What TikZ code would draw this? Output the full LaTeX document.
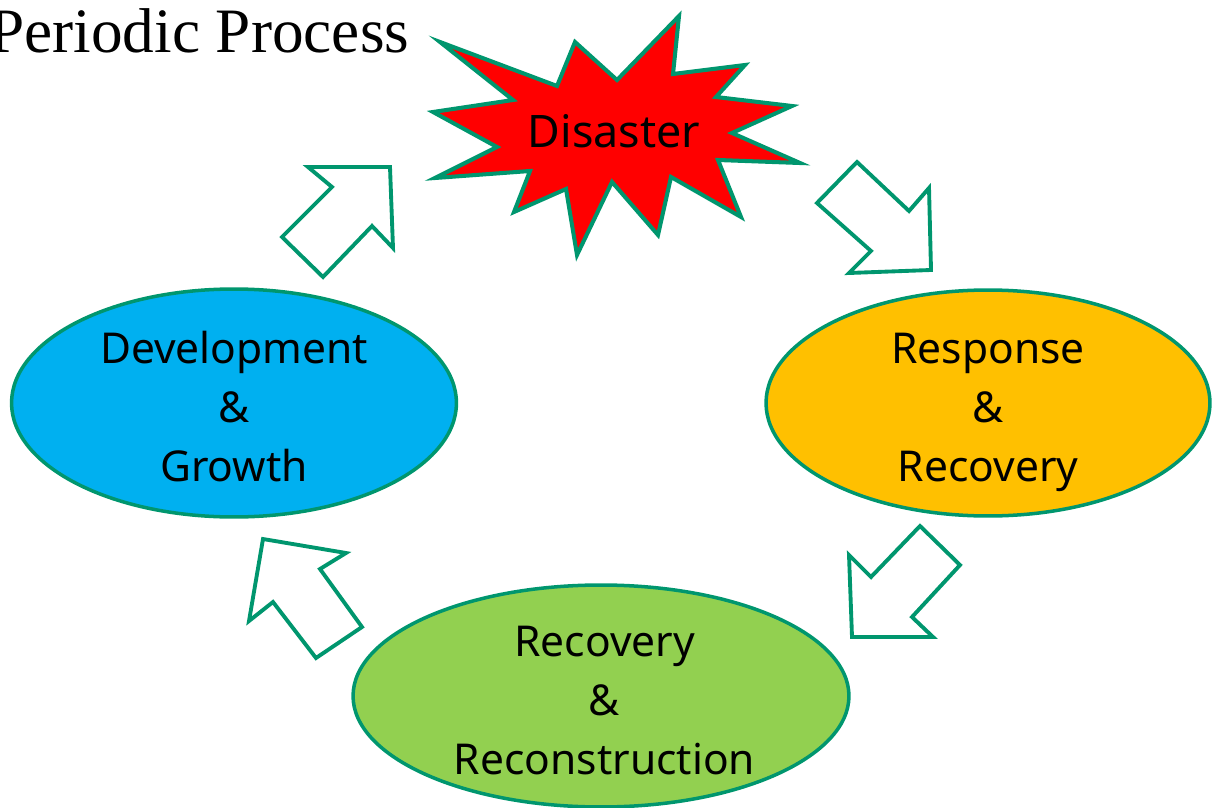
\documentclass[tikz,border=0pt]{standalone}
\usepackage{fontspec}
\setmainfont{Liberation Serif}
\newfontfamily\phasefont{Noto Sans}
\usetikzlibrary{shapes.geometric}

\definecolor{rimgreen}{RGB}{0,150,110}
\definecolor{quakered}{RGB}{255,0,0}
\definecolor{growblue}{RGB}{0,176,240}
\definecolor{respgold}{RGB}{255,192,0}
\definecolor{rebuildgreen}{RGB}{146,208,80}

\tikzset{
    phase/.style={ellipse,draw=rimgreen,line width=2pt,inner sep=0pt},
    phasetext/.style={align=center,inner sep=0pt,yshift=-4.5pt,
        font=\phasefont\fontsize{24.2}{33.6}\selectfont},
    hollow/.style={draw=rimgreen,line width=2.2pt,fill=white,line join=miter},
}

\begin{document}
\begin{tikzpicture}[x=0.02cm,y=-0.02cm]
    \useasboundingbox (0,0) rectangle (1212,807);

    \node[anchor=base west,inner sep=0pt,font=\fontsize{36}{40}\selectfont] (title) at (-11,53) {Periodic Process};

    \draw[draw=rimgreen,line width=2.3pt,fill=quakered,line join=miter]
        (440,42) -- (557,86) -- (575,42) -- (617,80) -- (679,16) -- (673,74)
        -- (745,65) -- (716,97) -- (792,106) -- (732,133) -- (800,163) -- (718,160)
        -- (741,217) -- (671,177) -- (658,235) -- (612,182) -- (577,255) -- (566,189)
        -- (514,212) -- (530,171) -- (435,178) -- (497,147) -- (433,112) -- (513,100) -- cycle;
    \node[inner sep=0pt,font=\phasefont\fontsize{25.5}{30}\selectfont] (disaster) at (614,131) {Disaster};

    \node[phase,fill=growblue,minimum width=8.9cm,minimum height=4.56cm] (develop) at (234,403) {};
    \node[phasetext] (developtext) at (develop.center) {\strut Development\\\&\\Growth\strut};

    \node[phase,fill=respgold,minimum width=8.88cm,minimum height=4.52cm] (respond) at (988,403) {};
    \node[phasetext] (respondtext) at (respond.center) {\strut Response\\\&\\Recovery\strut};

    \node[phase,fill=rebuildgreen,minimum width=9.92cm,minimum height=4.44cm] (rebuild) at (601,696) {};
    \node[phasetext] (rebuildtext) at ([xshift=2pt]rebuild.center) {\strut Recovery\\\&\\Reconstruction\strut};

    \draw[hollow] (308,167) -- (390,167) -- (393,248) -- (372,226) -- (323,277) -- (282,237) -- (332,187) -- cycle;
    \draw[hollow] (857,162) -- (909,211) -- (929,188) -- (931,270) -- (849,273) -- (871,251) -- (817,203) -- cycle;
    \draw[hollow] (920,526) -- (960,565) -- (912,617) -- (933,637) -- (852,637) -- (849,555) -- (871,577) -- cycle;
    \draw[hollow] (263,539) -- (346,553) -- (320,569) -- (362,627) -- (316,658) -- (273,602) -- (249,621) -- cycle;
\end{tikzpicture}
\end{document}
